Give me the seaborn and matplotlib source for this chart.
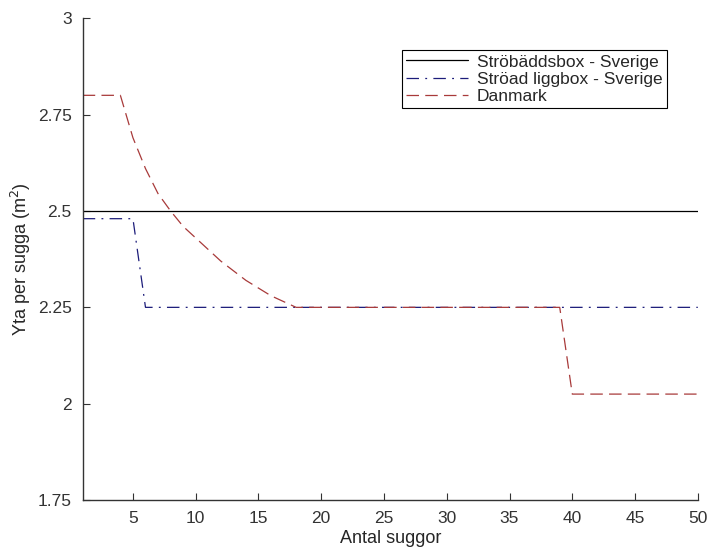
import numpy as np
import pandas as pd
import matplotlib
matplotlib.use("Agg")
import matplotlib.pyplot as plt
import seaborn as sns

# Chart data
antal = list(range(1, 51))
strobadd = [2.5] * 50
stroad = [2.48] * 5 + [2.25] * 45
danmark = ([2.80, 2.80, 2.80, 2.80, 2.69, 2.61, 2.545, 2.50, 2.46, 2.43,
            2.40, 2.37, 2.345, 2.32, 2.30, 2.28, 2.265, 2.25]
           + [2.25] * 21 + [2.025] * 11)
labels = ["Ströbäddsbox - Sverige", "Ströad liggbox - Sverige", "Danmark"]
yticks = [1.75, 2, 2.25, 2.5, 2.75, 3]
ytick_labels = ["1.75", "2", "2.25", "2.5", "2.75", "3"]
xticks = [5, 10, 15, 20, 25, 30, 35, 40, 45, 50]

sns.set_style("white")
plt.rcParams['font.family'] = ['Liberation Sans', 'DejaVu Sans']

fig = plt.figure(figsize=(7.07, 5.52), dpi=100)
ax = fig.add_axes([0.117, 0.094, 0.870, 0.873])

lw = 0.9
sns.lineplot(x=antal, y=strobadd, ax=ax, color="black", linewidth=lw, label=labels[0])
sns.lineplot(x=antal, y=stroad, ax=ax, color="#1c1c7a", linewidth=lw, label=labels[1])
sns.lineplot(x=antal, y=danmark, ax=ax, color="#a83a3a", linewidth=lw, label=labels[2])
lines = ax.get_lines()
lines[1].set_dashes((10, 5, 1.5, 5))
lines[2].set_dashes((10, 5))

ax.set_xlim(1, 50)
ax.set_ylim(1.75, 3)
ax.set_xticks(xticks)
ax.set_xticklabels([str(t) for t in xticks])
ax.set_yticks(yticks)
ax.set_yticklabels(ytick_labels)
ax.tick_params(direction="in", length=5, width=0.8, labelsize=12.5, colors="#333333",
               bottom=True, left=True, pad=8)
for side in ["top", "right"]:
    ax.spines[side].set_visible(False)
for side in ["left", "bottom"]:
    ax.spines[side].set_color("#333333")
    ax.spines[side].set_linewidth(1.0)

ax.set_xlabel("Antal suggor", fontsize=13, labelpad=3)
ax.set_ylabel("Yta per sugga (m$^2$)", fontsize=13, labelpad=3)

leg = ax.legend(loc="upper right", bbox_to_anchor=(0.95, 0.934), fancybox=False,
                framealpha=1, edgecolor="black", fontsize=12.5, handlelength=3.6,
                handletextpad=0.5, borderpad=0.25, labelspacing=0.12,
                borderaxespad=0)
leg.get_frame().set_linewidth(0.8)

fig.savefig("out.png", dpi=100)
